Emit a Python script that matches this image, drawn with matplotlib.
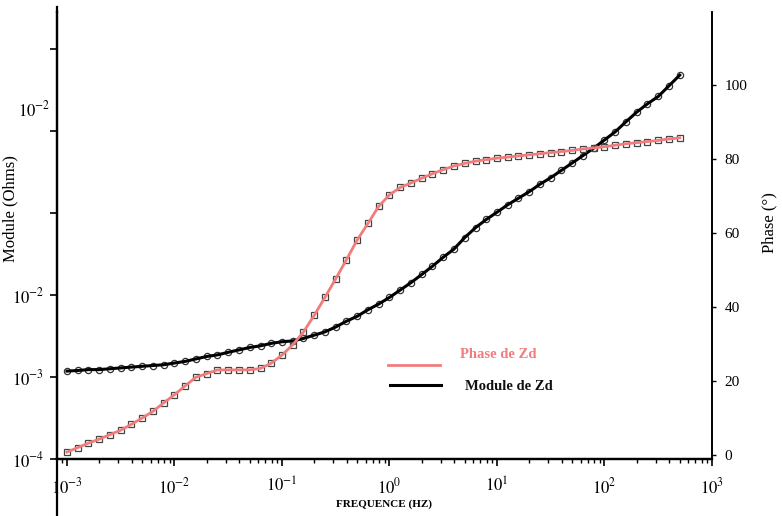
import matplotlib.pyplot as plt
from matplotlib.lines import Line2D
from matplotlib.ticker import FixedLocator, NullFormatter

plt.rcParams['font.family'] = ['Liberation Serif', 'DejaVu Serif']
plt.rcParams['mathtext.fontset'] = 'stix'

# frequencies (Hz), 10 points per decade
freq = [1.00e-3, 1.26e-3, 1.58e-3, 2.00e-3, 2.51e-3, 3.16e-3, 3.98e-3, 5.01e-3, 6.31e-3, 7.94e-3,
        1.00e-2, 1.26e-2, 1.58e-2, 2.00e-2, 2.51e-2, 3.16e-2, 3.98e-2, 5.01e-2, 6.31e-2, 7.94e-2,
        1.00e-1, 1.26e-1, 1.58e-1, 2.00e-1, 2.51e-1, 3.16e-1, 3.98e-1, 5.01e-1, 6.31e-1, 7.94e-1,
        1.00, 1.26, 1.58, 2.00, 2.51, 3.16, 3.98, 5.01, 6.31, 7.94,
        10.0, 12.6, 15.8, 20.0, 25.1, 31.6, 39.8, 50.1, 63.1, 79.4,
        100.0, 126.0, 158.0, 200.0, 251.0, 316.0, 398.0, 501.0]

# phase of Zd (degrees)
phase = [0.8, 2.0, 3.2, 4.3, 5.5, 6.7, 8.3, 10.0, 11.8, 14.1,
         16.3, 18.7, 21.0, 22.0, 23.0, 23.0, 23.0, 23.0, 23.4, 24.8,
         27.0, 29.8, 33.2, 37.8, 42.6, 47.6, 52.8, 58.1, 62.6, 67.2,
         70.3, 72.3, 73.5, 74.8, 76.0, 77.1, 78.1, 78.8, 79.4, 79.8,
         80.2, 80.5, 80.8, 81.1, 81.4, 81.7, 82.0, 82.3, 82.7, 83.0,
         83.3, 83.7, 84.1, 84.4, 84.7, 85.0, 85.4, 85.7]

# module of Zd (Ohms)
module = [1.18e-3, 1.20e-3, 1.23e-3, 1.23e-3, 1.26e-3, 1.29e-3, 1.32e-3, 1.35e-3, 1.38e-3, 1.41e-3,
          1.48e-3, 1.55e-3, 1.66e-3, 1.78e-3, 1.86e-3, 2.00e-3, 2.14e-3, 2.29e-3, 2.40e-3, 2.57e-3,
          2.69e-3, 2.75e-3, 2.95e-3, 3.24e-3, 3.55e-3, 4.07e-3, 4.79e-3, 5.50e-3, 6.61e-3, 7.76e-3,
          9.33e-3, 1.15e-2, 1.41e-2, 1.78e-2, 2.24e-2, 2.88e-2, 3.63e-2, 5.01e-2, 6.61e-2, 8.32e-2,
          0.102, 0.126, 0.151, 0.182, 0.224, 0.269, 0.331, 0.407, 0.501, 0.617,
          0.776, 0.977, 1.29, 1.70, 2.14, 2.63, 3.55, 4.79]

xtick_vals = [1e-3, 1e-2, 1e-1, 1e0, 1e1, 1e2, 1e3]
xtick_labels = [r'$10^{-3}$', r'$10^{-2}$', r'$10^{-1}$', r'$10^{0}$', r'$10^{1}$', r'$10^{2}$', r'$10^{3}$']
ytick_vals = [1e-4, 1e-3, 1e-2, 1e-1, 1e0, 1e1]
ytick_labels = [r'$10^{-4}$', r'$10^{-3}$', r'$10^{-2}$', '', '', '']
phase_ticks = [0, 20, 40, 60, 80, 100]

pink = '#F07C7C'

fig = plt.figure(figsize=(7.82, 5.16), dpi=100)
ax = fig.add_axes([57 / 782, 57 / 516, 655 / 782, 447 / 516])
ax2 = ax.twinx()

# module on left log axis
ax.set_xscale('log')
ax.set_yscale('log')
ax.set_xlim(10 ** -3.093, 1e3)
ax.set_ylim(1e-4, 10 ** 1.45)
ax.plot(freq, module, color='black', lw=2.2, zorder=3)
ax.plot(freq, module, ls='none', marker='o', ms=4.5, mfc='none', mec='#333333', mew=0.9, zorder=2)

# phase on right linear axis
ax2.set_ylim(-1.08, 119.7)
ax2.plot(freq, phase, color=pink, lw=2.0, zorder=3)
ax2.plot(freq, phase, ls='none', marker='s', ms=4.5, mfc='none', mec='#444444', mew=0.9, zorder=2)

for a in (ax, ax2):
    a.spines['top'].set_visible(False)
    a.spines['left'].set_linewidth(1.6)
    a.spines['bottom'].set_linewidth(1.6)
    a.spines['right'].set_linewidth(1.2)

ax.xaxis.set_major_locator(FixedLocator(xtick_vals))
ax.set_xticklabels(xtick_labels)
ax.tick_params(axis='x', which='major', direction='out', length=5, width=1.2, pad=8, labelsize=12)
ax.tick_params(axis='x', which='minor', direction='out', length=3, width=1.0)

ax.yaxis.set_major_locator(FixedLocator(ytick_vals))
ax.yaxis.set_minor_formatter(NullFormatter())
ax.yaxis.set_minor_locator(FixedLocator([]))
ax.set_yticklabels(ytick_labels)
ax.tick_params(axis='y', which='major', direction='out', length=5, width=1.2, pad=4, labelsize=12)
ax.text(-0.01, 0.78, r'$10^{-2}$', transform=ax.transAxes, ha='right', va='center', fontsize=12)

ax2.set_yticks(phase_ticks)
ax2.tick_params(axis='y', direction='out', length=3, width=1.0, pad=6, labelsize=11)

ax.set_ylabel('Module (Ohms)', fontsize=12)
ax.yaxis.set_label_coords(-0.0595, 0.56)
ax2.set_ylabel('Phase (°)', fontsize=12)
ax2.yaxis.set_label_coords(1.076, 0.53)
ax.set_xlabel('FREQUENCE (HZ)', fontsize=8, fontweight='bold', labelpad=2)

# left axis line runs past the plot area
fig.add_artist(Line2D([57 / 782, 57 / 782], [0.0, 57 / 516], color='black', lw=1.6))
fig.add_artist(Line2D([57 / 782, 57 / 782], [504 / 516, 509 / 516], color='black', lw=1.6))

# legend drawn by hand
ax.plot([0.505, 0.585], [0.210, 0.210], transform=ax.transAxes, color=pink, lw=2.0)
ax.plot([0.508, 0.587], [0.166, 0.166], transform=ax.transAxes, color='black', lw=2.2)
ax.text(0.615, 0.233, 'Phase de Zd', transform=ax.transAxes, color=pink, fontsize=10.5,
        fontweight='bold', va='center')
ax.text(0.623, 0.163, 'Module de Zd', transform=ax.transAxes, color='#111111', fontsize=10.5,
        fontweight='bold', va='center')

fig.savefig('out.png', dpi=100)
